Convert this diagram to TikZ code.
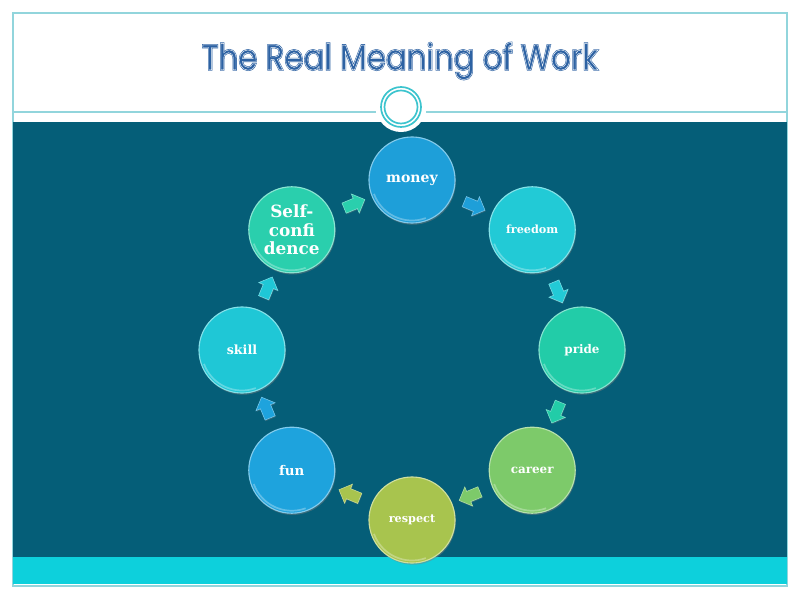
\documentclass[tikz,border=0pt]{standalone}
\usepackage{fontspec}
\usetikzlibrary{calc,shapes.arrows,shadows}
\newfontfamily\ballfont{DejaVu Serif}
\newfontfamily\headfont{Poppins}
\definecolor{frame}{HTML}{92D5DC}
\definecolor{band}{HTML}{055E78}
\definecolor{strip}{HTML}{0DD0DC}
\definecolor{ring}{HTML}{3CC4CE}
\definecolor{titleblue}{HTML}{2D62A3}
\definecolor{cMoney}{HTML}{1E9FD9}
\definecolor{cFreedom}{HTML}{22CAD6}
\definecolor{cPride}{HTML}{22CCA8}
\definecolor{cCareer}{HTML}{7DCA6A}
\definecolor{cRespect}{HTML}{A8C44E}
\definecolor{cFun}{HTML}{1EA3DD}
\definecolor{cSkill}{HTML}{1FC7D6}
\definecolor{cSelf}{HTML}{2ACFAD}
% outlined title: fill+stroke, then a thin white stroke on top
\newcommand\heavytext[1]{\special{pdf:literal direct 2 Tr 1.2 w 0.176 0.384 0.639 RG}#1\special{pdf:literal direct 0 Tr}}
\newcommand\inlinetext[1]{\special{pdf:literal direct 1 Tr 0.3 w 1 1 1 RG}#1\special{pdf:literal direct 0 Tr}}

\begin{document}
\begin{tikzpicture}[
x=0.025cm, y=0.025cm,
ball/.style={circle, minimum size=2.15cm, inner sep=0, align=center, text=white,
  fill=#1, draw=#1!55!white, line width=0.8pt,
  drop shadow={shadow xshift=0.6pt, shadow yshift=-1.2pt, opacity=0.45}},
hop/.style={single arrow, fill=#1, draw=#1!60!white, line width=0.4pt,
  minimum height=0.56cm, inner sep=0.13cm,
  single arrow head extend=0.12cm,
  drop shadow={shadow xshift=0.4pt, shadow yshift=-0.8pt, opacity=0.35}},
title/.style={font=\headfont\fontsize{25.5}{30}\selectfont, inner sep=0, xscale=0.86, transform shape}
]
\useasboundingbox (0,0) rectangle (800,600);
\fill[white] (0,0) rectangle (800,600);

% slide frame
\draw[frame, line width=0.8pt] (13,14) rectangle (787,587);
\fill[band] (13,43) rectangle (787,478);
\fill[strip] (13,16) rectangle (787,43);
\draw[frame, line width=0.8pt] (13,488) -- (376,488);
\draw[frame, line width=0.8pt] (426,488) -- (787,488);

% title
\node[title, text=titleblue] (head) at (400,539) {\heavytext{The Real Meaning of Work}};
\node[title, text=titleblue] (headline) at (head.center) {\inlinetext{The Real Meaning of Work}};

% ornament
\node[circle, fill=white, minimum size=1.25cm, inner sep=0] (knob) at (401,493) {};
\draw[ring, line width=1.2pt] (knob.center) circle (20);
\draw[ring, line width=1.2pt] (knob.center) circle (16.5);

% cycle
\coordinate (ctr) at (412,250);
\node[ball=cMoney, font=\ballfont\bfseries\fontsize{10}{11}\selectfont] (money) at ([shift={(90:170)}]ctr) {money};
\node[ball=cFreedom, font=\ballfont\bfseries\fontsize{8}{10}\selectfont] (freedom) at ([shift={(45:170)}]ctr) {freedom};
\node[ball=cPride, font=\ballfont\bfseries\fontsize{8.5}{10}\selectfont] (pride) at ([shift={(0:170)}]ctr) {pride};
\node[ball=cCareer, font=\ballfont\bfseries\fontsize{8.5}{10}\selectfont] (career) at ([shift={(-45:170)}]ctr) {career};
\node[ball=cRespect, font=\ballfont\bfseries\fontsize{8}{10}\selectfont] (respect) at ([shift={(-90:170)}]ctr) {respect};
\node[ball=cFun, font=\ballfont\bfseries\fontsize{9.5}{11}\selectfont] (fun) at ([shift={(-135:170)}]ctr) {fun};
\node[ball=cSkill, font=\ballfont\bfseries\fontsize{9}{11}\selectfont] (skill) at ([shift={(180:170)}]ctr) {skill};
\node[ball=cSelf, font=\ballfont\bfseries\fontsize{12}{13}\selectfont] (self) at ([shift={(135:170)}]ctr) {Self-\\confi\\dence};

% gloss on the lower left rim
\foreach \b in {money,freedom,pride,career,respect,fun,skill,self}
  \draw[white, opacity=0.3, line width=1.2pt] ([shift={(200:40.5)}]\b.center) arc (200:290:40.5);

% arrows between the balls
\foreach \a/\b/\c [count=\i] in {money/freedom/cMoney, freedom/pride/cFreedom,
    pride/career/cPride, career/respect/cCareer, respect/fun/cRespect,
    fun/skill/cFun, skill/self/cSkill, self/money/cSelf}
  \node[hop=\c, rotate={67.5-45*(\i-1)-90}] (hop\i) at ($(\a)!0.5!(\b)$) {};
\end{tikzpicture}
\end{document}
